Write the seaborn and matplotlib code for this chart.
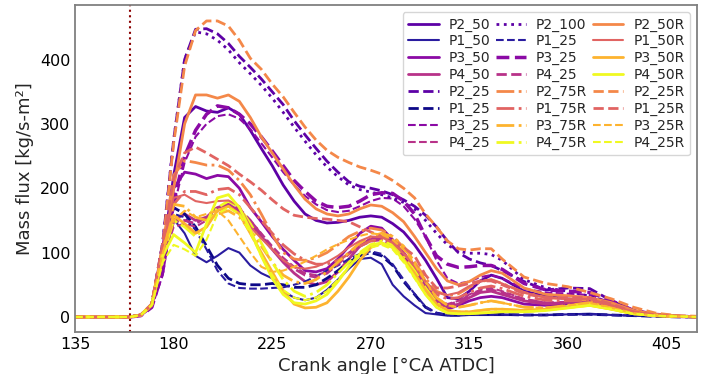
import numpy as np
import matplotlib
matplotlib.use("Agg")
import matplotlib.pyplot as plt
import seaborn as sns

# crank angle grid [deg CA ATDC]
angle = [135, 160, 165, 170, 175, 180, 185, 190, 195, 200, 205, 210, 215, 220, 225,
         230, 235, 240, 245, 250, 255, 260, 265, 270, 275, 280, 285, 290, 295, 300,
         305, 310, 315, 320, 325, 330, 340, 350, 360, 370, 380, 390, 400, 410, 420]

# mass flux [kg/s-m2]
p2_50 = [0, 0, 3, 18, 95, 220, 310, 327, 320, 318, 325, 315, 290, 262, 235, 205, 180, 160, 150, 146,
         147, 150, 155, 157, 155, 145, 132, 112, 88, 60, 30, 28, 40, 56, 65, 60, 40, 32, 28, 25, 18, 8, 3, 1, 0]
p1_50 = [0, 0, 3, 20, 100, 152, 130, 95, 85, 95, 107, 100, 80, 68, 60, 40, 30, 26, 30, 42,
         58, 75, 90, 92, 82, 50, 32, 18, 6, 4, 2, 2, 3, 3, 3, 3, 3, 3, 4, 5, 3, 2, 1, 0, 0]
p3_50 = [0, 0, 3, 18, 110, 200, 225, 222, 215, 220, 218, 200, 170, 148, 125, 105, 88, 72, 70, 75,
         90, 110, 130, 141, 138, 120, 95, 68, 42, 20, 12, 18, 25, 30, 32, 30, 20, 18, 20, 22, 15, 7, 3, 1, 0]
p4_50 = [0, 0, 3, 18, 90, 150, 160, 150, 155, 170, 175, 165, 145, 125, 105, 85, 68, 55, 50, 55,
         70, 90, 110, 122, 125, 118, 100, 78, 50, 25, 15, 20, 30, 38, 40, 35, 25, 20, 22, 24, 15, 6, 2, 1, 0]
p2_25 = [0, 0, 3, 20, 115, 275, 400, 447, 448, 440, 425, 405, 388, 370, 350, 330, 305, 283, 262, 242,
         225, 210, 203, 200, 196, 190, 182, 172, 158, 140, 118, 100, 90, 84, 80, 72, 55, 42, 45, 44, 25, 10, 4, 1, 0]
p1_25a = [0, 0, 3, 20, 110, 170, 160, 140, 110, 80, 60, 52, 50, 50, 52, 50, 46, 46, 50, 60,
          72, 85, 95, 100, 95, 80, 55, 35, 15, 6, 3, 3, 4, 4, 4, 4, 3, 3, 4, 4, 3, 2, 1, 0, 0]
p3_25a = [0, 0, 2, 15, 65, 170, 240, 280, 300, 312, 315, 308, 292, 270, 248, 225, 205, 188, 175, 166,
          163, 165, 172, 180, 185, 184, 172, 152, 125, 88, 60, 52, 55, 62, 65, 60, 44, 38, 36, 34, 22, 9, 3, 1, 0]
p4_25a = [0, 0, 3, 18, 85, 140, 145, 140, 150, 165, 172, 165, 150, 130, 110, 92, 78, 68, 65, 70,
          85, 100, 112, 120, 122, 115, 98, 75, 50, 28, 20, 25, 35, 42, 45, 40, 28, 22, 22, 24, 15, 6, 2, 1, 0]
p2_100 = [0, 0, 3, 20, 115, 275, 400, 443, 440, 430, 415, 395, 378, 360, 340, 318, 295, 273, 252, 233,
          218, 205, 198, 194, 190, 185, 178, 168, 150, 130, 112, 102, 99, 99, 97, 88, 58, 45, 40, 32, 22, 10, 4, 1, 0]
p1_25b = [0, 0, 3, 20, 105, 160, 155, 135, 105, 72, 52, 45, 44, 44, 45, 46, 50, 55, 63, 72,
          80, 90, 98, 102, 98, 82, 58, 36, 16, 6, 3, 3, 4, 4, 4, 4, 3, 3, 4, 4, 3, 2, 1, 0, 0]
p3_25b = [0, 0, 2, 15, 70, 180, 250, 290, 315, 328, 325, 315, 300, 280, 258, 235, 212, 195, 180, 172,
          170, 172, 180, 190, 193, 192, 180, 160, 125, 95, 82, 77, 78, 80, 80, 74, 52, 42, 40, 38, 25, 10, 4, 1, 0]
p4_25b = [0, 0, 3, 18, 90, 148, 150, 145, 155, 170, 175, 168, 150, 128, 105, 88, 75, 65, 62, 68,
          82, 98, 110, 118, 120, 112, 95, 72, 48, 26, 18, 24, 33, 40, 42, 38, 27, 22, 23, 25, 16, 6, 2, 1, 0]
p2_75r = [0, 0, 3, 20, 110, 220, 243, 240, 236, 236, 228, 212, 190, 160, 128, 100, 90, 88, 92, 100,
          112, 125, 133, 138, 135, 125, 108, 85, 60, 40, 33, 36, 46, 55, 58, 52, 38, 30, 28, 26, 18, 8, 3, 1, 0]
p1_75r = [0, 0, 3, 18, 95, 175, 195, 195, 190, 198, 200, 190, 170, 150, 130, 112, 98, 88, 82, 82,
          88, 98, 110, 118, 120, 115, 100, 80, 55, 35, 28, 30, 38, 45, 48, 44, 32, 26, 25, 26, 16, 7, 3, 1, 0]
p3_75r = [0, 0, 3, 20, 110, 175, 172, 155, 150, 160, 165, 155, 135, 110, 85, 65, 55, 52, 58, 70,
          85, 100, 115, 125, 130, 125, 110, 85, 55, 30, 18, 15, 18, 22, 25, 22, 15, 14, 18, 22, 14, 6, 2, 1, 0]
p4_75r = [0, 0, 3, 18, 95, 150, 140, 125, 140, 170, 180, 170, 145, 115, 85, 58, 40, 32, 38, 50,
          68, 85, 100, 112, 118, 112, 95, 72, 45, 22, 10, 8, 8, 10, 12, 12, 10, 12, 16, 20, 12, 5, 2, 1, 0]
p2_50r = [0, 0, 3, 18, 90, 200, 300, 345, 345, 340, 345, 335, 310, 280, 255, 230, 205, 183, 168, 160,
          157, 160, 168, 174, 172, 162, 148, 125, 100, 75, 56, 50, 55, 65, 72, 68, 45, 35, 33, 30, 22, 10, 4, 1, 0]
p1_50r = [0, 0, 3, 20, 110, 185, 190, 180, 177, 180, 181, 172, 140, 122, 105, 88, 77, 75, 78, 85,
          95, 108, 118, 125, 124, 115, 98, 78, 55, 38, 34, 38, 48, 55, 58, 52, 38, 30, 28, 28, 18, 8, 3, 1, 0]
p3_50r = [0, 0, 3, 20, 105, 158, 145, 130, 140, 165, 172, 160, 130, 100, 70, 40, 20, 14, 15, 22,
          40, 62, 88, 108, 115, 108, 90, 68, 42, 20, 10, 8, 8, 10, 12, 12, 10, 12, 15, 18, 12, 5, 2, 1, 0]
p4_50r = [0, 0, 3, 20, 95, 128, 115, 100, 145, 185, 190, 170, 135, 95, 60, 35, 22, 20, 25, 35,
          55, 78, 98, 112, 115, 108, 88, 62, 35, 15, 6, 5, 5, 6, 7, 8, 8, 10, 14, 18, 12, 5, 2, 1, 0]
p2_25r = [0, 0, 3, 20, 110, 270, 390, 445, 460, 460, 452, 430, 402, 385, 362, 342, 318, 295, 275, 259,
          248, 240, 233, 228, 222, 212, 200, 185, 160, 140, 118, 106, 104, 106, 106, 90, 62, 52, 47, 38, 28, 15, 6, 2, 1]
p1_25r = [0, 0, 3, 20, 115, 215, 255, 264, 255, 245, 235, 222, 210, 197, 182, 168, 158, 155, 153, 152,
          150, 148, 140, 132, 125, 118, 108, 95, 65, 45, 45, 48, 52, 56, 56, 50, 36, 30, 30, 30, 20, 8, 3, 1, 0]
p3_25r = [0, 0, 3, 20, 100, 150, 165, 155, 160, 165, 150, 125, 100, 78, 70, 72, 78, 86, 95, 105,
          113, 120, 126, 130, 128, 120, 105, 82, 55, 30, 18, 15, 18, 22, 25, 22, 15, 14, 18, 22, 14, 6, 2, 1, 0]
p4_25r = [0, 0, 3, 18, 85, 112, 105, 95, 120, 160, 170, 160, 130, 95, 65, 42, 30, 26, 30, 40,
          58, 78, 95, 108, 112, 105, 85, 60, 35, 15, 6, 5, 5, 6, 7, 8, 8, 10, 14, 18, 12, 5, 2, 1, 0]

c_p1, c_p1d, c_p2, c_p3, c_p4 = "#2a1ca0", "#0d0887", "#5d01a6", "#8b0aa5", "#b83289"
c_p1r, c_p2r, c_p3r, c_p4r = "#e16462", "#f48849", "#fdb32f", "#f0f921"

# (label, data, colour, linestyle, linewidth) in legend order
series = [
    ("P2_50", p2_50, c_p2, "-", 2.0),
    ("P1_50", p1_50, c_p1, "-", 1.5),
    ("P3_50", p3_50, c_p3, "-", 2.0),
    ("P4_50", p4_50, c_p4, "-", 2.0),
    ("P2_25", p2_25, c_p2, "--", 2.0),
    ("P1_25", p1_25a, c_p1d, "--", 2.0),
    ("P3_25", p3_25a, c_p3, "--", 1.5),
    ("P4_25", p4_25a, c_p4, "--", 1.5),
    ("P2_100", p2_100, c_p2, ":", 2.0),
    ("P1_25", p1_25b, c_p1, "--", 1.5),
    ("P3_25", p3_25b, c_p3, "--", 2.5),
    ("P4_25", p4_25b, c_p4, "--", 2.0),
    ("P2_75R", p2_75r, c_p2r, "-.", 2.0),
    ("P1_75R", p1_75r, c_p1r, "-.", 2.0),
    ("P3_75R", p3_75r, c_p3r, "-.", 2.0),
    ("P4_75R", p4_75r, c_p4r, "-.", 2.0),
    ("P2_50R", p2_50r, c_p2r, "-", 2.0),
    ("P1_50R", p1_50r, c_p1r, "-", 1.5),
    ("P3_50R", p3_50r, c_p3r, "-", 2.0),
    ("P4_50R", p4_50r, c_p4r, "-", 2.0),
    ("P2_25R", p2_25r, c_p2r, "--", 2.0),
    ("P1_25R", p1_25r, c_p1r, "--", 2.0),
    ("P3_25R", p3_25r, c_p3r, "--", 1.5),
    ("P4_25R", p4_25r, c_p4r, "--", 1.5),
]

sns.set_style("white")
plt.rcParams["font.family"] = ["DejaVu Sans"]

fig, ax = plt.subplots(figsize=(7.02, 3.74), dpi=100)
fig.subplots_adjust(left=0.107, right=0.993, top=0.987, bottom=0.113)

for label, vals, col, ls, lw in series:
    sns.lineplot(x=angle, y=vals, ax=ax, color=col, linestyle=ls, linewidth=lw, label=label)

ax.axvline(160, color="#8b0000", linestyle=":", linewidth=1.5)

ax.set_xlim(135, 419)
ax.set_ylim(-23, 485)
ax.set_xticks([135, 180, 225, 270, 315, 360, 405])
ax.set_yticks([0, 100, 200, 300, 400])
ax.tick_params(direction="in", length=5, labelsize=11.5, colors="#808080", labelcolor="black")
for sp in ax.spines.values():
    sp.set_color("#808080")
    sp.set_linewidth(1.3)

ax.set_xlabel("Crank angle [°CA ATDC]", fontsize=13)
ax.set_ylabel("Mass flux [kg/s-m²]", fontsize=13)

ax.legend(ncol=3, loc="upper right", fontsize=10, labelspacing=0.2, columnspacing=0.4,
          handlelength=2.2, handletextpad=0.7, borderaxespad=0.5)

fig.savefig("out.png", dpi=100)
